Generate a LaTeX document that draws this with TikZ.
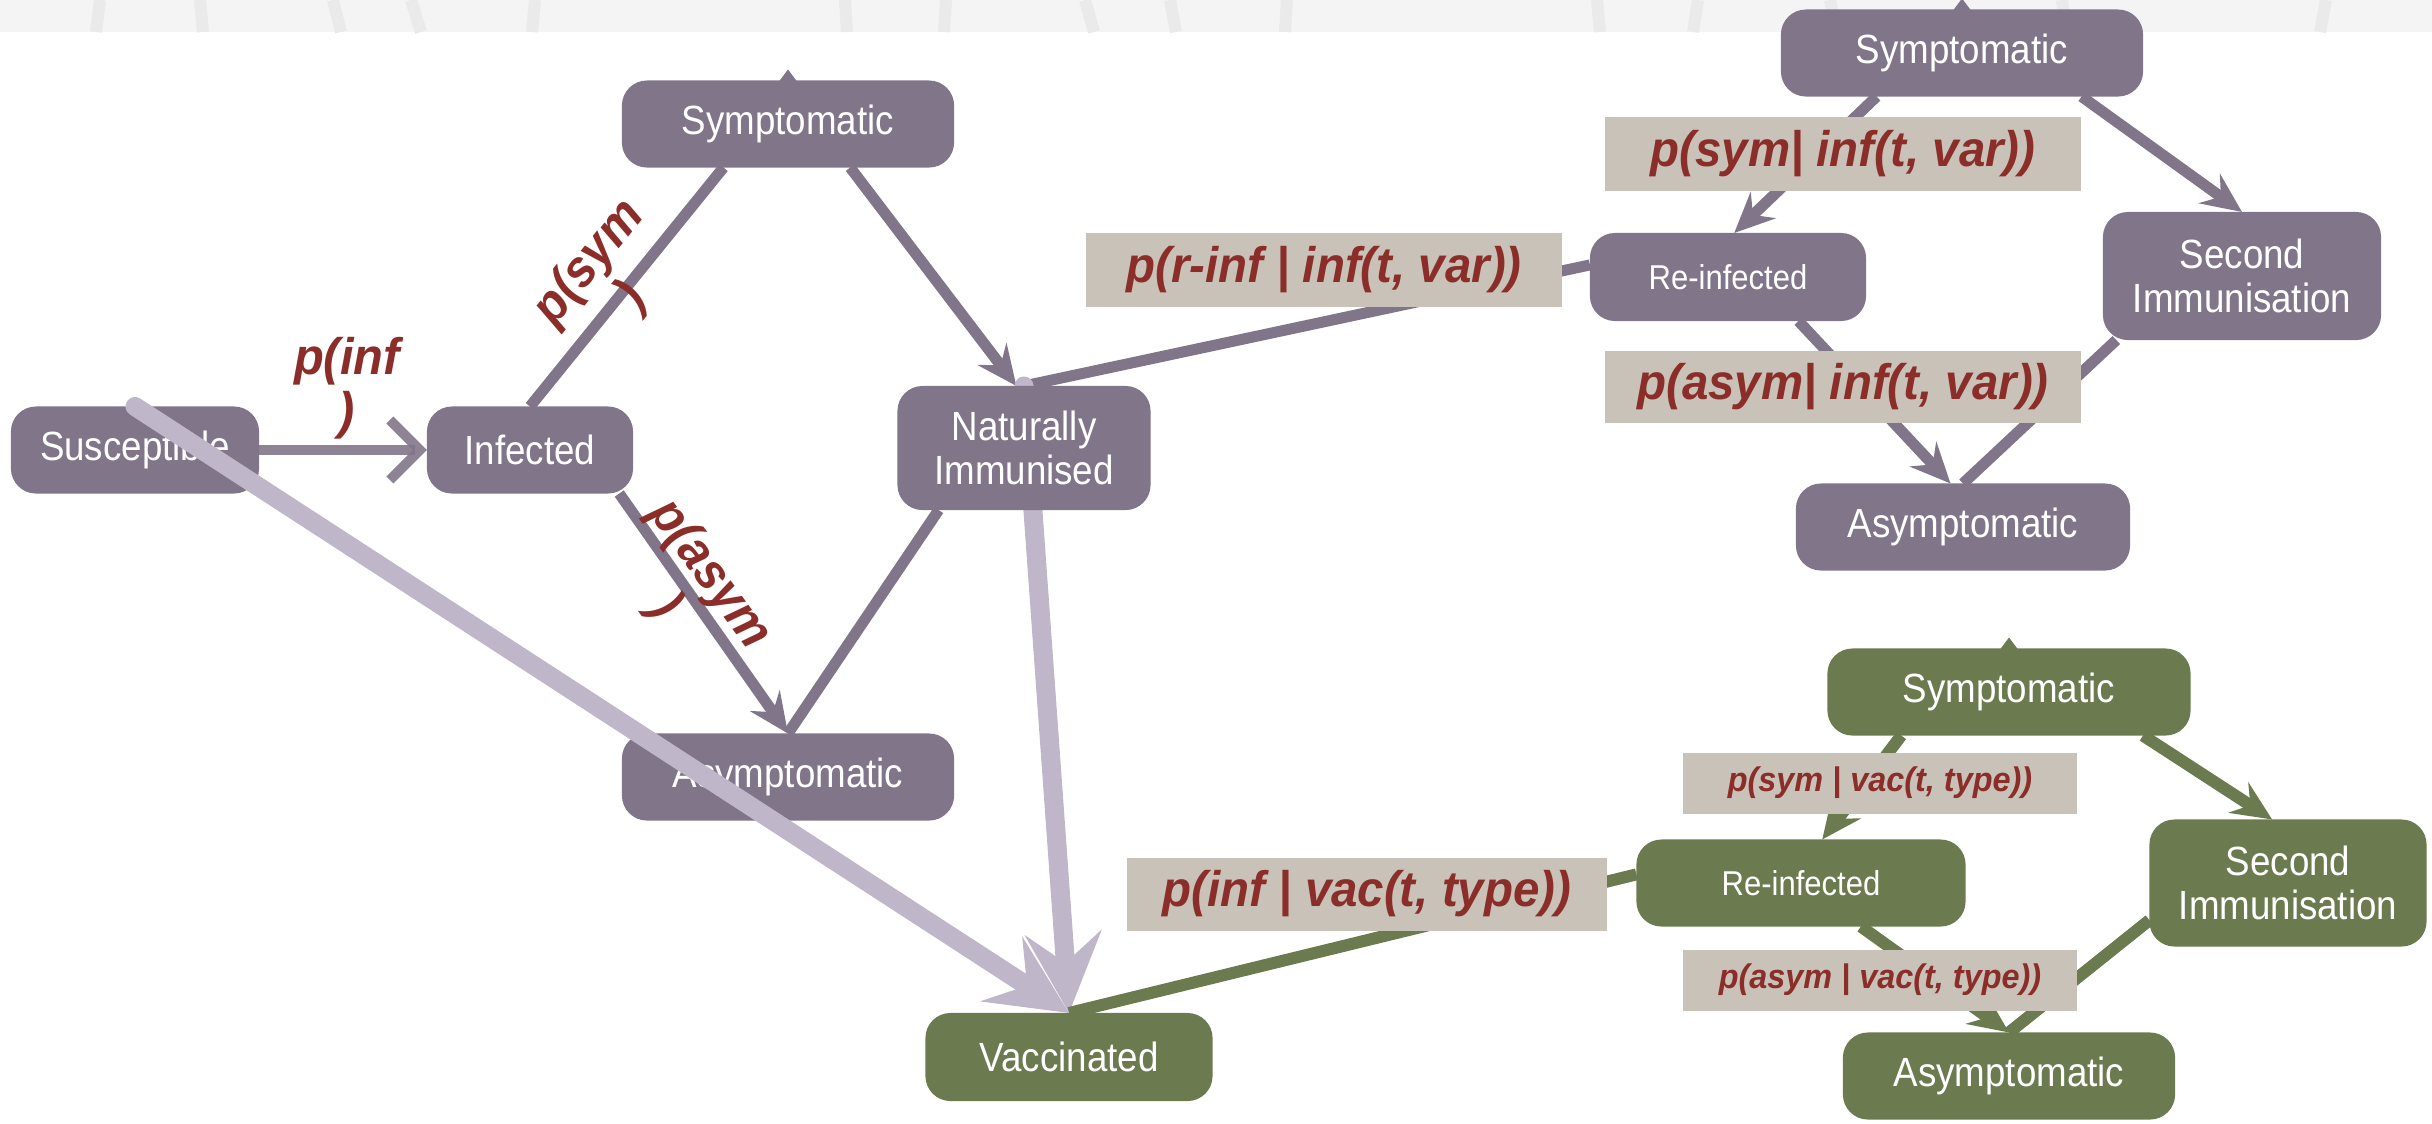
\documentclass[tikz,border=0pt]{standalone}
\usepackage{fontspec}
\setmainfont{Liberation Sans}
\newfontfamily\boxfont{Liberation Sans}[FakeStretch=0.9]
\newfontfamily\probfont{Liberation Sans}[FakeStretch=0.95]
\usetikzlibrary{arrows.meta,calc}
\definecolor{plum}{RGB}{129,117,137}
\definecolor{moss}{RGB}{107,123,79}
\definecolor{lilac}{RGB}{191,182,201}
\definecolor{sand}{RGB}{201,194,184}
\definecolor{rust}{RGB}{139,45,40}
\definecolor{haze}{RGB}{244,244,244}
\definecolor{streak}{RGB}{234,234,234}
\pgfdeclarelayer{back}
\pgfsetlayers{back,main}

\begin{document}
\begin{tikzpicture}[x=0.01cm, y=-0.01cm,
  state/.style={rounded corners=0.25cm, fill=plum, text=white, inner sep=0pt, outer sep=0pt,
    minimum height=0.87cm, align=center, font={\boxfont\fontsize{11.6}{12.3}\selectfont}},
  vstate/.style={state, fill=moss},
  small/.style={font={\boxfont\fontsize{9.8}{10}\selectfont}},
  prob/.style={fill=sand, text=rust, inner sep=0pt, outer sep=0pt, minimum width=4.76cm,
    minimum height=0.74cm, font={\probfont\fontsize{14.2}{16}\selectfont\bfseries\itshape}},
  sprob/.style={prob, minimum width=3.94cm, minimum height=0.61cm,
    font={\probfont\fontsize{9.7}{11}\selectfont\bfseries\itshape}},
  tag/.style={text=rust, align=center, inner sep=0pt,
    font={\probfont\fontsize{14.6}{15.5}\selectfont\bfseries\itshape}},
  link/.style={line width=0.11cm, draw=plum},
  vlink/.style={line width=0.12cm, draw=moss},
  head/.style={-{Stealth[length=0.4cm, width=0.36cm, inset=0.14cm]}},
  bighead/.style={line width=0.19cm, draw=lilac, line cap=round,
    -{Stealth[length=0.8cm, width=0.76cm, inset=0.3cm]}}]
\useasboundingbox (0,0) rectangle (2432,1123);
\fill[haze] (0,0) rectangle (2432,32);
\foreach \sx/\tilt in {100/-4,200/3,333/8,411/10,535/-3,845/2,946/-2,1085/9,1170/6,1287/-2,1597/3,1698/-5,1830/7,2062/4,2326/-6}
  \draw[streak, line width=0.12cm] (\sx,0) -- (\sx+\tilt,32);

\node[state, minimum width=2.48cm] (susc) at (135,450) {Susceptible};
\node[state, minimum width=2.06cm] (inf) at (530,450) {Infected};
\node[state, minimum width=3.32cm] (symA) at (788,124) {Symptomatic};
\node[state, minimum width=3.32cm] (asymA) at (788,777) {Asymptomatic};
\node[state, minimum width=2.53cm, minimum height=1.24cm] (natimm) at (1024,448) {Naturally\\Immunised};
\node[state, small, minimum width=2.76cm, minimum height=0.88cm] (reinfA) at (1728,277) {Re-infected};
\node[state, minimum width=3.62cm] (symB) at (1962,53) {Symptomatic};
\node[state, minimum width=2.78cm, minimum height=1.28cm] (secB) at (2242,276) {Second\\Immunisation};
\node[state, minimum width=3.34cm] (asymB) at (1963,527) {Asymptomatic};
\node[vstate, minimum width=2.87cm, minimum height=0.88cm] (vacc) at (1069,1057) {Vaccinated};
\node[vstate, minimum width=3.63cm] (symC) at (2009,692) {Symptomatic};
\node[vstate, small, minimum width=3.29cm] (reinfC) at (1801,883) {Re-infected};
\node[vstate, minimum width=2.77cm, minimum height=1.27cm] (secC) at (2288,883) {Second\\Immunisation};
\node[vstate, minimum width=3.32cm] (asymC) at (2009,1076) {Asymptomatic};

\node[prob] (pRinf) at (1324,270) {p(r-inf | inf(t, var))};
\node[prob] (pSymB) at (1843,154) {p(sym| inf(t, var))};
\node[prob, minimum height=0.72cm] (pAsymB) at (1843,387) {p(asym| inf(t, var))};
\node[prob, minimum width=4.79cm, minimum height=0.73cm] (pInfV) at (1367,894) {p(inf | vac(t, type))};
\node[sprob] (pSymC) at (1880,783) {p(sym | vac(t, type))};
\node[sprob] (pAsymC) at (1880,980) {p(asym | vac(t, type))};

\node[tag] (tInf) at (347,388) {p(inf\\)};
\node[tag, rotate=51] (tSym) at (611,280) {p(sym\\)};
\node[tag, rotate=-54] (tAsym) at (687,591) {p(asym\\)};

\foreach \n/\c in {symA/plum, symB/plum, symC/moss}
  \fill[\c] ($(\n.north)+(-9,1)$) -- ($(\n.north)+(0,-11)$) -- ($(\n.north)+(9,1)$) -- cycle;

\begin{pgfonlayer}{back}
\draw[link, head] (symA.325) -- (natimm.97);
\draw[link] (inf.north) -- (symA.214);
\draw[link, head] (inf.334) -- (asymA.north);
\draw[link] (asymA.north) -- (natimm.216);
\draw[link] (natimm.north) -- (reinfA.175);
\draw[link, head] (symB.207) -- (reinfA.82);
\draw[link, head] (symB.340) -- (secB.north);
\draw[link, head] (reinfA.328) -- (asymB.106);
\draw[link] (secB.207) -- (asymB.north);
\draw[bighead] (natimm.north) -- (vacc.north);
\draw[vlink] (vacc.north) -- (reinfC.177);
\draw[vlink, head] (symC.202) -- (reinfC.64);
\draw[vlink, head] (symC.342) -- (secC.104);
\draw[vlink, head] (reinfC.324) -- (asymC.north);
\draw[vlink] (secC.195) -- (asymC.north);
\end{pgfonlayer}
\draw[line width=0.1cm, draw=plum, opacity=0.9, -{Straight Barb[length=0.3cm, width=0.6cm]}] (susc) -- (inf);
\draw[bighead] (susc.north) -- (vacc.north);
\end{tikzpicture}
\end{document}
